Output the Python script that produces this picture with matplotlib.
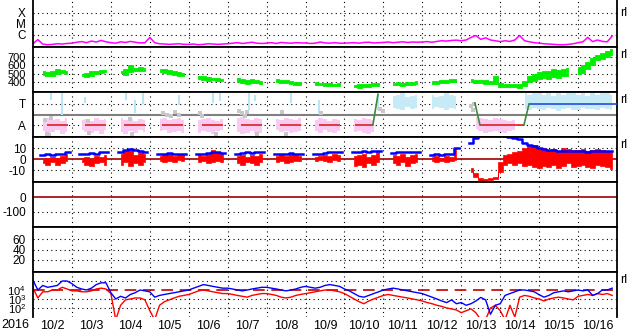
import numpy as np
import matplotlib
matplotlib.use('Agg')
import matplotlib.pyplot as plt
from matplotlib.ticker import NullLocator

plt.rcParams['font.family'] = ['Liberation Sans Narrow', 'Liberation Sans', 'DejaVu Sans']
plt.rcParams['mathtext.default'] = 'regular'

nan = np.nan
# time axis: days since 2016-10-02 00:00, 3 h steps
t = np.arange(120) * 0.125
day_labels = ['10/%d' % d for d in range(2, 17)]

# GOES X-ray flux, units of 1e-7 W/m2
xray_e7 = [1.6, 3.8, 1.5, 1.3, 1.4, 1.6, 1.5, 1.7,
           1.8, 2.2, 2.5, 2.0, 2.8, 2.3, 3.2, 2.4,
           2.0, 1.8, 2.4, 2.1, 2.6, 2.2, 1.9, 2.0,
           6.0, 2.0, 1.6, 1.5, 1.4, 1.5, 1.6, 1.4,
           1.4, 1.5, 1.3, 1.4, 1.6, 1.5, 1.4, 1.5,
           1.6, 1.8, 2.0, 1.7, 1.9, 2.2, 1.8, 1.7,
           1.8, 2.0, 1.7, 2.1, 1.9, 1.8, 2.0, 1.9,
           1.9, 1.7, 1.8, 2.3, 1.9, 1.8, 2.0, 1.8,
           1.8, 1.9, 2.0, 1.8, 2.1, 2.2, 1.9, 2.0,
           2.1, 2.3, 2.0, 2.2, 2.4, 2.1, 2.3, 2.2,
           2.3, 2.5, 2.2, 2.6, 3.0, 2.8, 3.2, 3.4,
           3.0, 3.5, 6.0, 9.0, 4.0, 5.5, 3.5, 3.0,
           2.5, 3.0, 2.6, 3.5, 9.0, 3.0, 2.4, 2.0,
           1.8, 1.6, 1.5, 1.4, 1.3, 1.3, 1.4, 1.6,
           2.0, 2.4, 6.0, 2.5, 3.5, 2.6, 2.4, 8.0]

# solar wind speed range (km/s)
speed_lo = [nan, nan, 490, 470, 480, 500, 505, 500,
            nan, nan, 470, 460, 480, 500, 510, 520,
            nan, nan, 510, 490, 520, 530, 530, 540,
            nan, nan, 520, 510, 500, 490, 480, 470,
            nan, nan, 440, 430, 420, 425, 420, 415,
            nan, nan, 400, 390, 385, 395, 390, 380,
            nan, nan, 400, 395, 390, 380, 370, 365,
            nan, nan, 370, 365, 360, 360, 355, 360,
            nan, nan, 340, 335, 345, 350, 355, 360,
            nan, nan, 365, 370, 360, 365, 370, 375,
            nan, nan, 380, 385, 390, 395, 400, 405,
            nan, nan, 400, 390, 395, 385, 380, 380,
            350, 340, 345, 340, 335, 360, 400, 420,
            440, 450, 440, 460, 450, 470, 480, nan,
            500, 510, 560, 600, 660, 680, 700, 720]
speed_hi = [nan, nan, 530, 520, 540, 560, 545, 530,
            nan, nan, 500, 510, 530, 540, 550, 545,
            nan, nan, 540, 560, 600, 570, 580, 570,
            nan, nan, 560, 560, 550, 530, 520, 510,
            nan, nan, 480, 470, 460, 455, 450, 445,
            nan, nan, 450, 440, 430, 435, 425, 420,
            nan, nan, 440, 430, 425, 415, 405, 400,
            nan, nan, 400, 395, 390, 390, 385, 390,
            nan, nan, 370, 375, 380, 385, 390, 395,
            nan, nan, 395, 400, 395, 400, 405, 410,
            nan, nan, 410, 420, 425, 430, 440, 445,
            nan, nan, 440, 430, 430, 425, 420, 470,
            390, 385, 380, 385, 380, 420, 470, 500,
            520, 540, 530, 560, 550, 560, 570, nan,
            580, 600, 640, 690, 730, 750, 770, 790]

# IMF sector: A = -1, T = +1
away_lo = [nan, nan, -1.6, -1.8, -1.7, -1.5, -1.9, -1.7,
           nan, nan, -1.5, -1.7, -1.8, -1.6, -1.9, -1.5,
           nan, nan, -1.7, -1.9, -1.6, -1.8, -1.5, -1.7,
           nan, nan, -1.6, -1.5, -1.8, -1.7, -1.6, -1.8,
           nan, nan, -1.8, -1.6, -1.7, -1.9, -1.6, -1.5,
           nan, nan, -1.7, -1.9, -1.8, -1.6, -1.9, -1.8,
           nan, nan, -1.5, -1.7, -1.6, -1.8, -1.7, -1.6,
           nan, nan, -1.6, -1.8, -1.5, -1.7, -1.8, -1.6,
           nan, nan, -1.7, -1.6, -1.8, -1.9, -1.7, nan,
           nan, nan, nan, nan, nan, nan, nan, nan,
           nan, nan, nan, nan, nan, nan, nan, nan,
           nan, nan, nan, -1.4, -1.6, -1.8, -1.7, -1.6,
           -1.7, -1.8, -1.6, -1.5, nan, nan, nan, nan,
           nan, nan, nan, nan, nan, nan, nan, nan,
           nan, nan, nan, nan, nan, nan, nan, nan]
away_hi = [nan, nan, -0.4, -0.3, -0.5, -0.4, -0.6, -0.3,
           nan, nan, -0.5, -0.4, -0.6, -0.3, -0.5, -0.4,
           nan, nan, -0.3, -0.5, -0.4, -0.6, -0.4, -0.5,
           nan, nan, -0.4, -0.3, -0.5, -0.4, -0.3, -0.5,
           nan, nan, -0.5, -0.4, -0.3, -0.5, -0.6, -0.4,
           nan, nan, -0.3, -0.2, -0.4, -0.5, -0.3, -0.4,
           nan, nan, -0.4, -0.5, -0.3, -0.4, -0.5, -0.3,
           nan, nan, -0.5, -0.3, -0.4, -0.6, -0.4, -0.5,
           nan, nan, -0.4, -0.5, -0.3, -0.4, -0.5, nan,
           nan, nan, nan, nan, nan, nan, nan, nan,
           nan, nan, nan, nan, nan, nan, nan, nan,
           nan, nan, nan, -0.2, -0.3, -0.4, -0.5, -0.3,
           -0.4, -0.5, -0.6, -0.5, nan, nan, nan, nan,
           nan, nan, nan, nan, nan, nan, nan, nan,
           nan, nan, nan, nan, nan, nan, nan, nan]
toward_lo = [nan] * 72 + [
             nan, nan, 0.6, 0.5, 0.4, 0.7, 0.5, 0.6,
             nan, nan, 0.5, 0.7, 0.6, 0.4, 0.6, 0.5,
             nan, nan, nan, nan, nan, nan, nan, nan,
             nan, nan, nan, nan, nan, 0.5, 0.4, 0.6,
             0.5, 0.4, 0.6, 0.5, 0.3, 0.5, 0.6, 0.4,
             0.4, 0.6, 0.5, 0.5, 0.4, 0.6, 0.5, 0.4]
toward_hi = [nan] * 72 + [
             nan, nan, 1.8, 1.9, 2.0, 1.7, 1.8, 1.9,
             nan, nan, 1.9, 1.7, 1.8, 2.0, 1.9, 1.8,
             nan, nan, nan, nan, nan, nan, nan, nan,
             nan, nan, nan, nan, nan, 2.0, 1.9, 2.0,
             2.0, 1.9, 2.1, 1.8, 2.0, 1.9, 2.0, 2.1,
             1.9, 2.0, 1.8, 2.1, 1.9, 2.0, 2.1, 1.9]
toward_spike_t = [0.47, 0.74, 1.34, 2.39, 2.62, 2.83, 3.75, 4.62, 4.80, 5.56, 5.70, 6.62, 7.34, 8.85]
toward_spike_lo = [1.4, 0.0, 1.1, 1.4, 0.15, 1.0, 0.9, 1.1, 1.3, 0.4, 1.3, 1.1, 0.1, 0.4]
toward_spike_hi = [2.05, 2.05, 1.7, 2.05, 1.4, 2.05, 1.9, 2.05, 2.05, 2.05, 1.9, 2.05, 1.4, 2.0]
grey_t = [0.30, 0.35, 0.40, 0.45, 1.40, 1.45, 2.50, 2.55, 3.35, 3.45, 3.55, 3.65, 3.75,
          4.30, 4.35, 4.70, 5.30, 5.38, 5.45, 5.50, 5.75, 6.40, 6.50, 7.40, 8.90, 9.00,
          11.25, 11.30, 11.32]
grey_v = [-0.5, -1.9, -1.95, -0.3, -0.6, -1.8, -0.4, -1.85, 0.1, 0.0, -0.1, 0.2, 0.0,
          0.1, -0.1, -1.9, 0.3, 0.1, -0.1, 0.2, -1.9, 0.2, -1.9, 0.1, 0.5, 0.3,
          0.8, 0.4, 1.0]
away_mean_t0 = [0.36, 1.34, 2.35, 3.31, 4.34, 5.34, 6.34, 7.34, 8.27, 11.48]
away_mean_t1 = [0.90, 1.88, 2.87, 3.86, 4.88, 5.88, 6.88, 7.88, 8.73, 12.61]
toward_mean_t0 = [12.74]
toward_mean_t1 = [15.0]
switch_t = [[8.73, 8.86], [11.35, 11.48], [12.61, 12.74]]
switch_v = [[-1, 1.9], [1.1, -1], [-1, 1]]

# IMF Bz range and Bt (nT)
bz_lo = [nan, nan, -4, -5, -3, -5, -4, -2,
         nan, nan, -3, -5, -6, -4, -3, -5,
         nan, nan, -5, -3, -6, -4, -5, -3,
         nan, nan, -2, -3, -2, -3, -1, -2,
         nan, nan, -3, -2, -4, -3, -2, -3,
         nan, nan, -4, -5, -3, -4, -5, -3,
         nan, nan, -3, -2, -4, -3, -2, -2,
         nan, nan, -2, -1, -2, -3, -1, -2,
         nan, nan, -6, -5, -7, -4, -5, -3,
         nan, nan, -4, -5, -3, -6, -4, -3,
         nan, nan, -2, -3, -2, -3, -2, -1,
         nan, nan, -12, -16, -20, -21, -19, -18,
         -12, -5, -4, -5, -4, -6, -5, -7,
         -8, -6, -7, -5, -8, -6, -4, -7,
         -6, -5, -7, -8, -5, -6, -7, -9]
bz_hi = [nan, nan, 0, 1, 2, 1, 3, 5,
         nan, nan, 1, 2, 0, 3, 2, 4,
         nan, nan, 5, 8, 9, 4, 6, 5,
         nan, nan, 3, 4, 5, 3, 4, 4,
         nan, nan, 4, 3, 5, 8, 6, 5,
         nan, nan, 3, 4, 2, 4, 3, 5,
         nan, nan, 3, 4, 3, 5, 4, 3,
         nan, nan, 2, 3, 4, 3, 5, 4,
         nan, nan, 3, 4, 5, 2, 4, 6,
         nan, nan, 4, 3, 5, 2, 4, 5,
         nan, nan, 2, 3, 1, 3, 2, 9,
         nan, nan, -8, -13, -17, -18, -17, -16,
         -3, 4, 5, 6, 7, 10, 12, 13,
         9, 10, 8, 9, 7, 10, 9, 8,
         8, 9, 7, 8, 9, 8, 7, 6]
bt = [nan, nan, 4, 4.5, 4, 4.5, 5, 6,
      nan, nan, 4.5, 5, 5.5, 5, 6, 6,
      nan, nan, 6, 8, 9, 8.5, 7, 6.5,
      nan, nan, 5, 5, 5.5, 5, 5, 5,
      nan, nan, 4.5, 5, 5.5, 6, 6, 5.5,
      nan, nan, 5, 5.5, 6, 5.5, 6, 6,
      nan, nan, 4.5, 5, 5, 5.5, 5, 5,
      nan, nan, 5, 5, 5.5, 6, 6, 6.5,
      nan, nan, 6, 6.5, 7, 6.5, 7, 7.5,
      nan, nan, 5.5, 6, 6, 6.5, 6, 6,
      nan, nan, 4, 4.5, 4, 5, 5, 10,
      nan, nan, 15, 19, 22, 24, 24, 23,
      23, 21, 20, 19, 18, 15, 13, 12,
      10, 9, 8.5, 8, 7.5, 7, 7, 7,
      7, 7, 6.5, 7, 7.5, 7, 7, 7]

# energetic electron flux, two satellites
elec_a = [120000, 10000, 32000, 20000, 25000, 32000, 100000, 100000,
          50000, 20000, 13000, 10000, 16000, 40000, 63000, 63000,
          5000, 1000, 2000, 1300, 3200, 5000, 10000, 8000,
          6300, 1600, 2500, 3200, 4000, 5000, 6300, 8000,
          10000, 16000, 25000, 40000, 32000, 25000, 20000, 16000,
          16000, 13000, 10000, 8000, 10000, 13000, 16000, 20000,
          20000, 16000, 13000, 10000, 8000, 10000, 13000, 20000,
          25000, 20000, 16000, 20000, 32000, 40000, 32000, 25000,
          13000, 8000, 4000, 2000, 1600, 2500, 4000, 6300,
          10000, 13000, 16000, 13000, 10000, 8000, 6300, 5000,
          4000, 2500, 1600, 1000, 600, 400, 800, 300,
          400, 200, 300, 600, 1500, 800, 20, 200,
          300, 2500, 4000, 6300, 10000, 10000, 8000, 6300,
          3000, 1600, 2500, 5000, 6300, 8000, 6300, 8000,
          10000, 8000, 10000, 2500, 4000, 10000, 10000, 16000]
elec_b = [16000, 1300, 6300, 6300, 10000, 10000, 20000, 13000,
          8000, 8000, 6300, 6300, 8000, 13000, 16000, 13000,
          4000, 5, 200, 800, 1000, 1300, 1300, 800,
          50, 5, 200, 500, 800, 1300, 2000, 2500,
          3200, 5000, 8000, 10000, 8000, 6300, 5000, 4000,
          4000, 3200, 2500, 2000, 1600, 2500, 3200, 4000,
          4000, 3200, 2500, 1600, 1300, 1600, 2500, 3200,
          4000, 5000, 6300, 8000, 10000, 10000, 8000, 6300,
          4000, 2000, 1000, 500, 300, 600, 1000, 1600,
          2500, 3200, 2500, 2000, 1600, 1300, 1000, 800,
          600, 400, 300, 200, 150, 100, 80, 60,
          30, 50, 80, 30, 5, 5, 100, 200,
          50, 5, 200, 10, 1600, 2500, 2000, 1300,
          1000, 600, 1000, 1300, 1600, 1300, 1000, 800,
          2000, 2500, 3200, 2500, 4000, 3200, 4000, 2500]

W, H = 633, 334
fig = plt.figure(figsize=(W / 100, H / 100), dpi=100)
tops = [0, 47, 92, 137, 182, 227, 272]
hts = [47, 45, 45, 45, 45, 45, 45]
axs = [fig.add_axes([33 / W, 1 - (tp + h) / H, 584 / W, h / H]) for tp, h in zip(tops, hts)]

dots = (0, (1, 3))


def style(ax, ylim, ticks, labels, grid, log=False, rl=0.82, fs=8.5):
    if log:
        ax.set_yscale('log')
        ax.yaxis.set_minor_locator(NullLocator())
    ax.set_xlim(0, 15)
    ax.set_ylim(*ylim)
    ax.set_yticks(ticks)
    ax.set_yticklabels(labels)
    ax.set_xticks([])
    ax.tick_params(axis='y', length=0, pad=5, labelsize=fs)
    for d in range(1, 15):
        ax.axvline(d, color='k', ls=dots, lw=0.8, zorder=0.5)
    for g in grid:
        ax.axhline(g, color='k', ls=dots, lw=0.8, zorder=0.5)
    for s in ax.spines.values():
        s.set_linewidth(1.3)
    if rl:
        ax.text(1.006, rl, 'rl', transform=ax.transAxes, fontsize=9, va='center', ha='left')


# panel 1: X-ray
ax = axs[0]
ax.plot(t, np.array(xray_e7) * 1e-7, color='#ff00ff', lw=1.1)
style(ax, (8.1e-8, 1.5e-3), [1e-6, 1e-5, 1e-4], ['C', 'M', 'X'], [1e-6, 1e-5, 1e-4], log=True, rl=0.72)
ax.spines['top'].set_visible(False)

# panel 2: solar wind speed
ax = axs[1]
lo, hi = np.array(speed_lo, float), np.array(speed_hi, float)
ax.fill_between(t, lo, hi, where=np.isfinite(lo), step='mid', color='#00ee00', lw=0.6, edgecolor='#00ee00')
style(ax, (285, 819), [400, 500, 600, 700], ['400', '500', '600', '700'], [400, 500, 600, 700], fs=8)

# panel 3: IMF sector
ax = axs[2]
lo, hi = np.array(away_lo, float), np.array(away_hi, float)
ax.fill_between(t, lo, hi, where=np.isfinite(lo), step='mid', color='#fbcaf3', lw=0)
lo, hi = np.array(toward_lo, float), np.array(toward_hi, float)
ax.fill_between(t, lo, hi, where=np.isfinite(lo), step='mid', color='#c6ebf7', lw=0)
ax.vlines(toward_spike_t, toward_spike_lo, toward_spike_hi, color='#b8e6f6', lw=1.5)
ax.scatter(grey_t, grey_v, s=6, marker='s', color='#c8c8c8', lw=0, zorder=2)
ax.axhline(0, color='#808080', lw=1.5, zorder=1.5)
ax.hlines([-1] * len(away_mean_t0), away_mean_t0, away_mean_t1, color='#dd2020', lw=1.2, zorder=3)
ax.hlines([1] * len(toward_mean_t0), toward_mean_t0, toward_mean_t1, color='#2050dd', lw=1.2, zorder=3)
for st, sv in zip(switch_t, switch_v):
    ax.plot(st, sv, color='#3c8a3c', lw=1.2, zorder=3)
style(ax, (-2.14, 2.14), [-1, 1], ['A', 'T'], [-1, 1])

# panel 4: Bz / Bt
ax = axs[3]
lo, hi = np.array(bz_lo, float), np.array(bz_hi, float)
ax.fill_between(t, lo, hi, where=np.isfinite(lo), step='mid', color='#ff0000', lw=0.5, edgecolor='#ff0000', zorder=2)
ax.plot(t, bt, color='#0000ff', lw=1.8, drawstyle='steps-mid', zorder=2.5)
ax.axhline(0, color='#a00000', lw=1.2, zorder=1.5)
style(ax, (-20.9, 20), [-10, 0, 10], ['-10', '0', '10'], [-10, 10])

# panel 5: Dst
ax = axs[4]
ax.axhline(0, color='#a00000', lw=1.2)
style(ax, (-200, 100), [-100, 0], ['-100', '0'], [-100], rl=None)

# panel 6
ax = axs[5]
style(ax, (-3, 83), [20, 40, 60], ['20', '40', '60'], [20, 40, 60], rl=None)

# panel 7: electron flux
ax = axs[6]
ax.plot(t, elec_a, color='#0000ff', lw=1.0, zorder=2.5)
ax.plot(t, elec_b, color='#ff0000', lw=1.0, zorder=2)
ax.axhline(1e4, color='#c00000', lw=1.2, ls=(0, (7, 4)), zorder=1.5)
style(ax, (10, 1e6), [1e2, 1e3, 1e4], ['$10^2$', '$10^3$', '$10^4$'], [1e2, 1e3, 1e5], log=True, fs=8)
ax.spines['bottom'].set_visible(False)
ax.set_xticks(np.arange(15) + 0.5)
ax.set_xticklabels(day_labels, fontsize=9)
ax.tick_params(axis='x', length=0, pad=2)
fig.text(15 / W, 1 - 325 / H, '2016', ha='center', va='center', fontsize=9)

fig.savefig('out.png', dpi=100)
